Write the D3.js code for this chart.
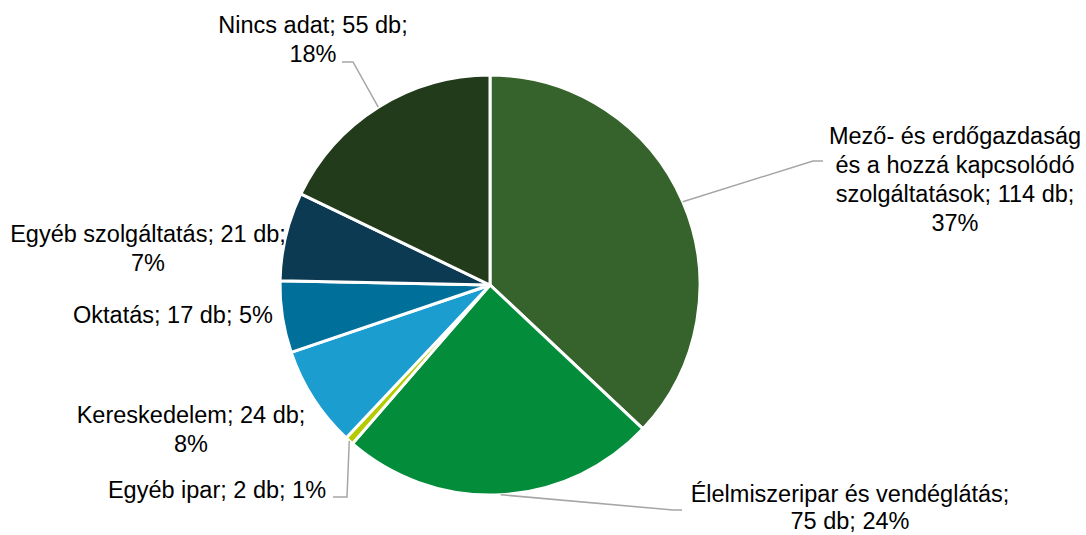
<!DOCTYPE html>
<html>
<head>
<meta charset="utf-8">
<script src="https://cdn.jsdelivr.net/npm/d3@7"></script>
<style>
  body { margin: 0; background: #fff; }
  text { font-family: "Liberation Sans", Arial, sans-serif; font-size: 23.5px; fill: #000; }
</style>
</head>
<body>
<svg id="chart"></svg>
<script>
// data
var categories = ["Mező- és erdőgazdaság és a hozzá kapcsolódó szolgáltatások", "Élelmiszeripar és vendéglátás",
  "Egyéb ipar", "Kereskedelem", "Oktatás", "Egyéb szolgáltatás", "Nincs adat"]
var counts = [114, 75, 2, 24, 17, 21, 55]
var percents = ["37%", "24%", "1%", "8%", "5%", "7%", "18%"]
var colors = ["#35632b", "#038c39", "#b3cb00", "#1b9dd0", "#00709b", "#0c3a52", "#223b1b"]

// label lines (text broken as in the picture)
var labelLines = [
  ["Mező- és erdőgazdaság", "és a hozzá kapcsolódó", "szolgáltatások; 114 db;", "37%"],
  ["Élelmiszeripar és vendéglátás;", "75 db; 24%"],
  ["Egyéb ipar; 2 db; 1%"],
  ["Kereskedelem; 24 db;", "8%"],
  ["Oktatás; 17 db; 5%"],
  ["Egyéb szolgáltatás; 21 db;", "7%"],
  ["Nincs adat; 55 db;", "18%"]
]

var screen = {width: 1086, height: 535}
var cx = 490, cy = 285, radius = 210

// label placement: text center x, first baseline y, leader elbow and end (null = no leader)
var labelPos = [
  {x: 955, y: 144, elbow: [813, 161], end: [823, 161]},
  {x: 850, y: 502, lh: 27, elbow: [673, 510], end: [682, 510]},
  {x: 217, y: 498, elbow: [347, 497], end: [333, 497]},
  {x: 191, y: 423, elbow: null},
  {x: 173, y: 323, elbow: null},
  {x: 148, y: 242, elbow: null},
  {x: 313, y: 33, elbow: [353, 62], end: [342, 62]}
]
var lineHeight = 29

var svg = d3.select("#chart")
  .attr("width", screen.width)
  .attr("height", screen.height)

var g = svg.append("g")
  .attr("transform", "translate(" + cx + "," + cy + ")")

var pie = d3.pie().sort(null).value(function(d){ return d })
var arcs = pie(counts)

var arc = d3.arc().innerRadius(0).outerRadius(radius)

g.selectAll("path")
  .data(arcs)
  .enter()
  .append("path")
  .attr("d", arc)
  .attr("fill", function(d, i){ return colors[i] })
  .attr("stroke", "#fff")
  .attr("stroke-width", 3)
  .attr("stroke-linejoin", "miter")

// leader lines
arcs.forEach(function(d, i){
  var p = labelPos[i]
  if (!p.elbow) return
  var mid = (d.startAngle + d.endAngle) / 2
  var sx = cx + radius * Math.sin(mid)
  var sy = cy - radius * Math.cos(mid)
  svg.append("polyline")
    .attr("points", [[sx, sy], p.elbow, p.end].map(function(q){ return q.join(",") }).join(" "))
    .attr("fill", "none")
    .attr("stroke", "#a6a6a6")
    .attr("stroke-width", 1.5)
})

// labels
labelLines.forEach(function(lines, i){
  var p = labelPos[i]
  var lh = p.lh || lineHeight
  var t = svg.append("text")
    .attr("text-anchor", "middle")
  lines.forEach(function(l, j){
    t.append("tspan")
      .attr("x", p.x)
      .attr("y", p.y + j * lh)
      .text(l)
  })
})
</script>
</body>
</html>
